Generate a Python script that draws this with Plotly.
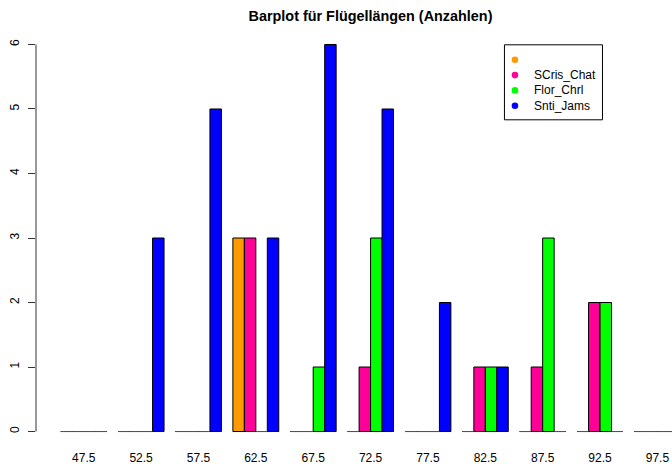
import plotly.graph_objects as go

# Wing-length classes (class midpoints)
categories = ["47.5", "52.5", "57.5", "62.5", "67.5", "72.5",
              "77.5", "82.5", "87.5", "92.5", "97.5"]

# Counts per class for each group
series_names = ["", "SCris_Chat", "Flor_Chrl", "Snti_Jams"]
counts_unnamed = [0, 0, 0, 3, 0, 0, 0, 0, 0, 0, 0]
counts_scris = [0, 0, 0, 3, 0, 1, 0, 1, 1, 2, 0]
counts_flor = [0, 0, 0, 0, 1, 3, 0, 1, 3, 2, 0]
counts_snti = [0, 3, 5, 3, 6, 5, 2, 1, 0, 0, 0]
series_colors = ["#FF9900", "#FF0099", "#00FF00", "#0000FF"]

all_counts = [counts_unnamed, counts_scris, counts_flor, counts_snti]

W, H = 672, 464
# plot-area geometry in pixels
PL, PR, PT, PB = 36.2, 672.0, 29.2, 447.2
n_groups = len(categories)
n_series = len(all_counts)
group_w = n_series + 1  # bars plus one gap unit (beside layout)

# x in bar units: group k occupies [k*5+1, k*5+5]
x_lo = 1 - 0.04 * (n_groups * group_w - 1)
px_per_unit = 11.47
x_hi = x_lo + (PR - PL) / px_per_unit
y_max = 6
y_lo, y_hi = -0.04 * y_max, y_max * 1.04

fig = go.Figure()

for j, (name, vals, col) in enumerate(zip(series_names, all_counts, series_colors)):
    xs = [k * group_w + 1.5 + j for k in range(n_groups)]
    fig.add_trace(go.Bar(
        x=xs, y=vals, width=1, name=name,
        marker=dict(color=col, line=dict(color="black", width=1)),
        showlegend=False, hoverinfo="skip",
    ))
    # zero-count bars show up as a flat outline on the baseline
    zx, zy = [], []
    for x, v in zip(xs, vals):
        if v == 0:
            zx += [x - 0.5, x + 0.5, None]
            zy += [0, 0, None]
    if zx:
        fig.add_trace(go.Scatter(
            x=zx, y=zy, mode="lines", line=dict(color="#555555", width=1),
            showlegend=False, hoverinfo="skip",
        ))

centers = [k * group_w + 1 + n_series / 2 for k in range(n_groups)]


def px2paper_x(px):
    return (px - PL) / (PR - PL)


def px2paper_y(py):
    return (PB - py) / (PB - PT)


shapes = [
    # y axis line spanning the tick range only
    dict(type="line", xref="paper", yref="y", x0=0, x1=0, y0=0, y1=y_max,
         line=dict(color="#333333", width=1)),
    # legend box
    dict(type="rect", xref="paper", yref="paper",
         x0=px2paper_x(504.5), x1=px2paper_x(602.5),
         y0=px2paper_y(120), y1=px2paper_y(45),
         line=dict(color="black", width=1), fillcolor="white"),
]

annotations = []
leg_rows = [60, 75.3, 90.6, 105.9]
for name, col, ry in zip(series_names, series_colors, leg_rows):
    r = 3.3
    shapes.append(dict(
        type="circle", xref="paper", yref="paper",
        x0=px2paper_x(515 - r), x1=px2paper_x(515 + r),
        y0=px2paper_y(ry + r), y1=px2paper_y(ry - r),
        fillcolor=col, line=dict(width=0),
    ))
    if name:
        annotations.append(dict(
            text=name, xref="paper", yref="paper",
            x=px2paper_x(532), y=px2paper_y(ry),
            xanchor="left", yanchor="middle", showarrow=False,
            font=dict(size=12, color="black"),
        ))

fig.update_layout(
    width=W, height=H,
    margin=dict(l=PL, r=W - PR, t=PT, b=H - PB, pad=0, autoexpand=False),
    paper_bgcolor="white", plot_bgcolor="white",
    font=dict(family="Liberation Sans, Arial, sans-serif", size=12, color="black"),
    barmode="overlay",
    title=dict(
        text="<b>Barplot für Flügellängen (Anzahlen)</b>",
        x=px2paper_x(370.6), xref="paper", xanchor="center",
        y=1 - 15.5 / H, yref="container", yanchor="middle",
        font=dict(size=14.4, color="black"),
    ),
    xaxis=dict(
        range=[x_lo, x_hi], showgrid=False, zeroline=False, showline=False,
        tickmode="array", tickvals=centers, ticktext=categories,
        ticks="", tickfont=dict(size=12), ticklabelstandoff=2,
        automargin=False,
    ),
    yaxis=dict(
        range=[y_lo, y_hi], showgrid=False, zeroline=False, showline=False,
        tickmode="array", tickvals=list(range(0, y_max + 1)),
        ticks="outside", ticklen=7, tickwidth=1, tickcolor="#333333",
        tickangle=-90, tickfont=dict(size=12), ticklabelstandoff=4,
        automargin=False,
    ),
    shapes=shapes,
    annotations=annotations,
    showlegend=False,
)

fig.write_html("out.html")
